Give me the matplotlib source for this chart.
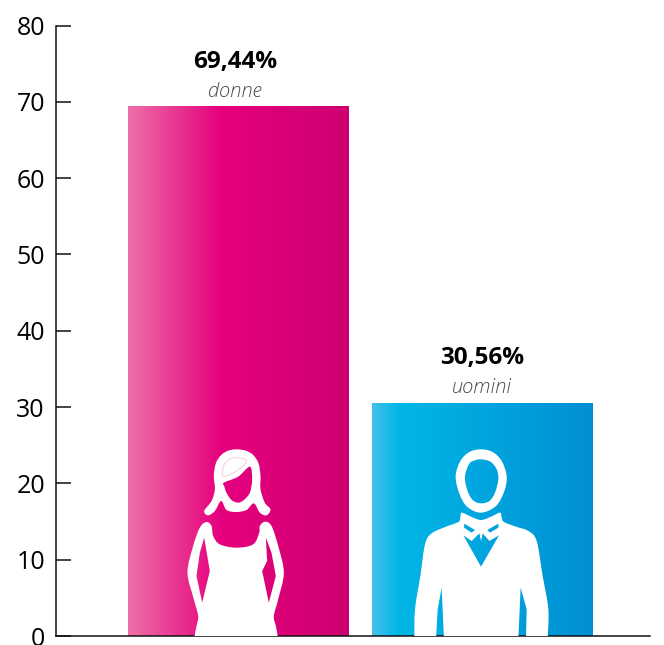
import matplotlib
matplotlib.use("Agg")
import numpy as np
from matplotlib import pyplot as plt
from matplotlib.colors import LinearSegmentedColormap
from matplotlib.patches import PathPatch
from matplotlib.path import Path
from matplotlib.transforms import Affine2D

categories = ["donne", "uomini"]
values = [69.44, 30.56]
value_labels = ["69,44%", "30,56%"]
y_ticks = [0, 10, 20, 30, 40, 50, 60, 70, 80]

pink_stops = [(0.0, "#ec70a6"), (0.42, "#e6007e"), (1.0, "#cd0072")]
blue_stops = [(0.0, "#45c1ec"), (0.12, "#00b6e7"), (1.0, "#008fd3")]

# icon outlines, local units (1/3 px), x from icon centre, y up from the baseline
woman_hair = [(0, 560), (28, 556), (50, 543), (66, 518), (72, 480), (72, 440), (85, 400), (102, 380), (90, 362),
              (70, 370), (52, 398), (30, 378), (0, 372), (-30, 378), (-46, 405), (-65, 375), (-85, 362),
              (-97, 375), (-75, 405), (-65, 440), (-68, 480), (-62, 518), (-46, 543), (-25, 556)]
woman_face = [(-38, 460), (5, 478), (40, 508), (47, 470), (40, 430), (22, 408), (5, 400), (-15, 408),
              (-30, 430), (-37, 450)]
woman_parting = [(-40, 480), (-35, 518), (-5, 535), (30, 525), (0, 495)]
woman_body = [(-90, 342), (-75, 330), (-70, 300), (-50, 275), (0, 265), (50, 275), (68, 310), (70, 330),
              (85, 343), (105, 330), (125, 270), (142, 190), (125, 110), (112, 60), (118, 30), (125, -10),
              (130, -60), (-130, -60), (-127, -10), (-120, 30), (-115, 60), (-128, 110), (-147, 190),
              (-130, 270), (-110, 325)]
woman_gap_l = [(-97, 295), (-80, 195), (-103, 100), (-120, 180), (-110, 250)]
woman_gap_r = [(88, 295), (92, 225), (77, 195), (97, 100), (118, 180), (105, 250)]

man_head = [(0, 560), (35, 552), (62, 525), (77, 480), (70, 435), (45, 390), (0, 370), (-42, 388), (-66, 430),
            (-76, 480), (-62, 525), (-35, 552)]
man_face = [(0, 530), (28, 523), (47, 500), (52, 470), (42, 430), (25, 405), (0, 398), (-25, 408), (-42, 440),
            (-48, 480), (-35, 517), (-18, 527)]
man_body = [(-58, 370), (-30, 358), (0, 348), (30, 358), (57, 370), (62, 355), (69, 342), (105, 328), (142, 315),
            (167, 285), (185, 180), (202, 80), (200, -10), (200, -60), (-200, -60), (-200, -10), (-198, 80),
            (-182, 180), (-168, 275), (-148, 308), (-105, 328), (-68, 342), (-62, 355)]
man_v = [(-53, 302), (-28, 285), (-5, 308), (0, 285), (5, 308), (25, 285), (54, 302), (0, 208)]
man_slit_l = [(-50, 337), (-18, 318), (-28, 310), (-51, 325)]
man_slit_r = [(52, 337), (19, 318), (27, 310), (52, 325)]
man_gap_l = [(-118, 145), (-111, -10), (-135, -10), (-130, 80)]
man_gap_r = [(119, 145), (137, 80), (135, -10), (112, -10)]


def oriented(points, ccw):
    pts = np.array(points, dtype=float)
    x, y = pts[:, 0], pts[:, 1]
    area = np.sum(x * np.roll(y, -1) - np.roll(x, -1) * y)
    if (area > 0) != ccw:
        pts = pts[::-1]
    return pts


def smooth_loop(points, ccw=True):
    """Closed Catmull-Rom outline as Bezier segments."""
    pts = oriented(points, ccw)
    n = len(pts)
    verts = [pts[0]]
    codes = [Path.MOVETO]
    for i in range(n):
        p0, p1, p2, p3 = pts[i - 1], pts[i], pts[(i + 1) % n], pts[(i + 2) % n]
        verts += [p1 + (p2 - p0) / 6, p2 - (p3 - p1) / 6, p2]
        codes += [Path.CURVE4] * 3
    return verts, codes


def straight_loop(points, ccw=False):
    pts = oriented(points, ccw)
    verts = list(pts) + [pts[0]]
    codes = [Path.MOVETO] + [Path.LINETO] * (len(pts) - 1) + [Path.CLOSEPOLY]
    return verts, codes


def compound(*loops):
    verts, codes = [], []
    for v, c in loops:
        verts += list(v)
        codes += c
    return Path(np.array(verts), codes)


def add_icon(ax, x_pos, path, anchor_shift=0, **kwargs):
    x0, y0 = ax.transData.transform((x_pos, 0))
    tr = Affine2D().scale(ax.figure.dpi / 100 / 3).translate(x0 + anchor_shift, y0)
    patch = PathPatch(path, transform=tr, zorder=3, **kwargs)
    ax.add_patch(patch)
    patch.set_clip_path(ax.patch)


plt.rcParams["font.family"] = ["Open Sans", "DejaVu Sans"]

fig = plt.figure(figsize=(6.64, 6.45), dpi=100)
ax = fig.add_axes([56 / 664, 9 / 645, (650 - 56) / 664, 610.5 / 645])

bar_width = 221 / 244
label_shift = [-2.5, -0.5]

for i, stops in enumerate([pink_stops, blue_stops]):
    cmap = LinearSegmentedColormap.from_list(categories[i], stops)
    bar = ax.bar(i, values[i], bar_width, color="none", linewidth=0)[0]
    img = ax.imshow(np.linspace(0, 1, 256).reshape(1, -1), cmap=cmap, aspect="auto", zorder=2,
                    extent=[i - bar_width / 2, i + bar_width / 2, 0, values[i]])
    img.set_clip_path(bar)
    ax.annotate(value_labels[i], (i, values[i]), xytext=(label_shift[i], 32), textcoords="offset points",
                ha="center", va="center", fontsize=17.5, fontweight="bold", color="black")
    ax.annotate(categories[i], (i, values[i]), xytext=(label_shift[i], 10.5), textcoords="offset points",
                ha="center", va="center", fontsize=14.5, fontstyle="italic", fontweight="light",
                color="#4a4a4a")

ax.set_xlim((56 - 238.5) / 244, (650 - 238.5) / 244)
ax.set_ylim(0, 80)

ax.set_xticks([])
ax.set_yticks(y_ticks)
ax.tick_params(axis="y", direction="in", length=11, width=1.1, pad=8, labelsize=18, color="#111111",
               labelcolor="black")
for side in ["top", "right"]:
    ax.spines[side].set_visible(False)
for side in ["left", "bottom"]:
    ax.spines[side].set_linewidth(1.1)
    ax.spines[side].set_color("#111111")

fig.canvas.draw()

woman_shift, man_shift = -2, -1.5
add_icon(ax, 0, compound(smooth_loop(woman_hair), smooth_loop(woman_face, ccw=False)), woman_shift,
         facecolor="white", linewidth=0)
add_icon(ax, 0, compound(smooth_loop(woman_parting)), woman_shift, facecolor="white", edgecolor="#f5c4dc",
         linewidth=0.6)
add_icon(ax, 0, compound(smooth_loop(woman_body), straight_loop(woman_gap_l), straight_loop(woman_gap_r)),
         woman_shift, facecolor="white", linewidth=0)
add_icon(ax, 1, compound(smooth_loop(man_head), smooth_loop(man_face, ccw=False)), man_shift,
         facecolor="white", linewidth=0)
add_icon(ax, 1, compound(smooth_loop(man_body), straight_loop(man_v), straight_loop(man_slit_l),
                         straight_loop(man_slit_r), straight_loop(man_gap_l), straight_loop(man_gap_r)),
         man_shift, facecolor="white", linewidth=0)

fig.savefig("out.png", dpi=100)
